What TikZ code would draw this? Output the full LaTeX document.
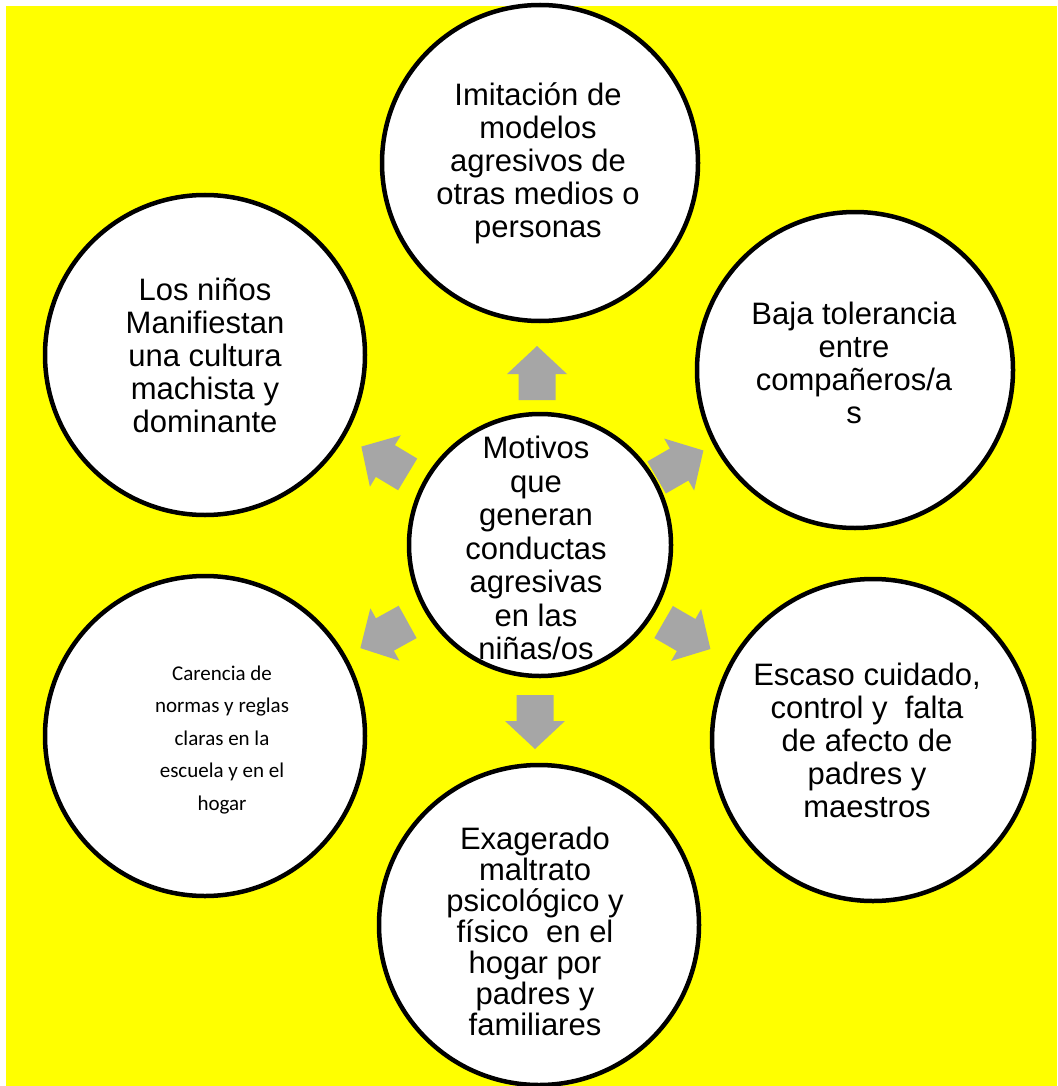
\documentclass[tikz,border=0pt]{standalone}
\usepackage{fontspec}
\setmainfont{Liberation Sans}
\newfontfamily\calib{Carlito}
\definecolor{bg}{HTML}{FFFF00}
\definecolor{arrowgray}{HTML}{A6A6A6}
\begin{document}
\begin{tikzpicture}[x=1pt,y=-1pt,
  bubble/.style={circle, draw=black, line width=4.5pt, fill=white, inner sep=0pt},
  txt/.style={align=center, font=\fontsize{31}{33}\selectfont, inner sep=0pt},
  ctxt/.style={align=center, font=\calib\fontsize{21}{32.5}\selectfont, inner sep=0pt},
  garrow/.pic={\fill[arrowgray] (-27,-18.5) -- (-1,-18.5) -- (-1,-30) -- (27,0) -- (-1,30) -- (-1,18.5) -- (-27,18.5) -- cycle;}
]
\useasboundingbox (0,0) rectangle (1057,1086);
\fill[bg] (6,6) rectangle (1057,1086);

% arrows
\pic[rotate=90]  (aup) at (537,373)   {garrow};
\pic[rotate=-90] (adn) at (535,722)   {garrow};
\pic[rotate=149] (aul) at (384.5,460.5) {garrow};
\pic[rotate=30]  (aur) at (680,464)   {garrow};
\pic[rotate=209] (all) at (384,635)   {garrow};
\pic[rotate=-30] (alr) at (687,635.5) {garrow};

% circles
\node[bubble, minimum size=316pt] (top) at (540,163) {};
\node[bubble, minimum size=320pt] (ul)  at (205,355) {};
\node[bubble, minimum size=316pt] (ur)  at (855,370) {};
\node[bubble, minimum size=320pt] (ll)  at (205,736) {};
\node[bubble, minimum size=322pt] (lr)  at (873,740) {};
\node[bubble, minimum size=320pt] (bot) at (539,925) {};
\node[bubble, minimum size=262pt] (ctr) at (540,545) {};

% texts
\node[txt] (top-t) at (538,163) {Imitación de\\modelos\\agresivos de\\otras medios o\\personas};
\node[txt] (ul-t) at (205,355) {Los niños\\Manifiestan\\una cultura\\machista y\\dominante};
\node[txt] (ur-t) at (854,363) {Baja tolerancia\\entre\\compañeros/a\\s};
\node[ctxt] (ll-t) at (222,740) {Carencia de\\normas y reglas\\claras en la\\escuela y en el\\hogar};
\node[txt] (lr-t) at (867,740) {Escaso cuidado,\\control y~ falta\\de afecto de\\padres y\\maestros};
\node[txt, font=\fontsize{31}{31}\selectfont] (bot-t) at (535,931) {Exagerado\\maltrato\\psicológico y\\físico~ en el\\hogar por\\padres y\\familiares};
\node[txt, font=\fontsize{31}{33.5}\selectfont] (ctr-t) at (536,548) {Motivos\\que\\generan\\conductas\\agresivas\\en las\\niñas/os};
\end{tikzpicture}
\end{document}
